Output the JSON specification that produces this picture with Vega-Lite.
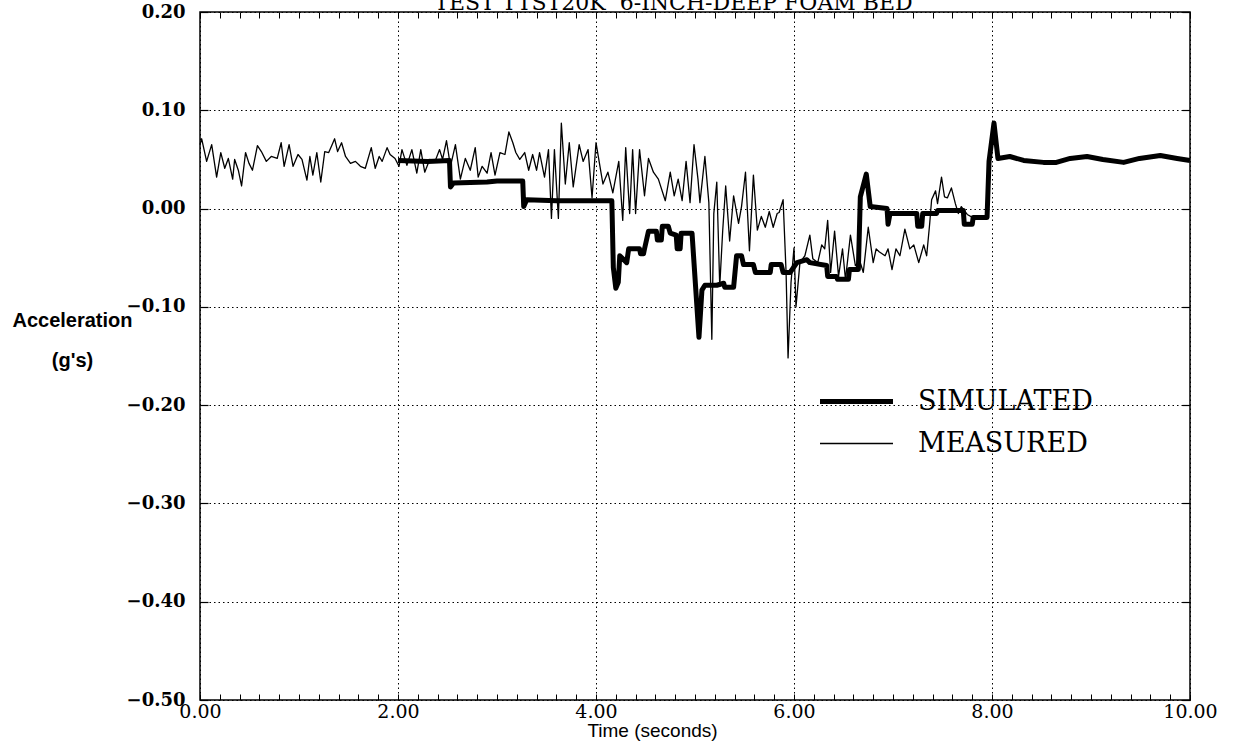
{
  "$schema": "https://vega.github.io/schema/vega-lite/v6.json",
  "width": 990,
  "height": 688,
  "autosize": {"type": "none"},
  "padding": {"left": 200, "top": 12, "right": 45, "bottom": 46},
  "background": "white",
  "config": {"view": {"stroke": "black", "strokeWidth": 1.5}},
  "datasets": {
    "d": [
      {"series": "MEASURED", "time": 0.0, "accel": 0.065},
      {"series": "MEASURED", "time": 0.017, "accel": 0.071},
      {"series": "MEASURED", "time": 0.067, "accel": 0.048},
      {"series": "MEASURED", "time": 0.118, "accel": 0.065},
      {"series": "MEASURED", "time": 0.168, "accel": 0.032},
      {"series": "MEASURED", "time": 0.21, "accel": 0.057},
      {"series": "MEASURED", "time": 0.25, "accel": 0.041},
      {"series": "MEASURED", "time": 0.286, "accel": 0.051},
      {"series": "MEASURED", "time": 0.33, "accel": 0.030},
      {"series": "MEASURED", "time": 0.35, "accel": 0.050},
      {"series": "MEASURED", "time": 0.387, "accel": 0.039},
      {"series": "MEASURED", "time": 0.42, "accel": 0.023},
      {"series": "MEASURED", "time": 0.46, "accel": 0.057},
      {"series": "MEASURED", "time": 0.495, "accel": 0.046},
      {"series": "MEASURED", "time": 0.53, "accel": 0.039},
      {"series": "MEASURED", "time": 0.58, "accel": 0.064},
      {"series": "MEASURED", "time": 0.62, "accel": 0.058},
      {"series": "MEASURED", "time": 0.67, "accel": 0.048},
      {"series": "MEASURED", "time": 0.72, "accel": 0.053},
      {"series": "MEASURED", "time": 0.78, "accel": 0.051},
      {"series": "MEASURED", "time": 0.82, "accel": 0.067},
      {"series": "MEASURED", "time": 0.85, "accel": 0.043},
      {"series": "MEASURED", "time": 0.90, "accel": 0.065},
      {"series": "MEASURED", "time": 0.94, "accel": 0.043},
      {"series": "MEASURED", "time": 0.99, "accel": 0.055},
      {"series": "MEASURED", "time": 1.03, "accel": 0.050},
      {"series": "MEASURED", "time": 1.08, "accel": 0.029},
      {"series": "MEASURED", "time": 1.11, "accel": 0.053},
      {"series": "MEASURED", "time": 1.14, "accel": 0.034},
      {"series": "MEASURED", "time": 1.18, "accel": 0.057},
      {"series": "MEASURED", "time": 1.22, "accel": 0.027},
      {"series": "MEASURED", "time": 1.26, "accel": 0.058},
      {"series": "MEASURED", "time": 1.30, "accel": 0.057},
      {"series": "MEASURED", "time": 1.33, "accel": 0.064},
      {"series": "MEASURED", "time": 1.36, "accel": 0.071},
      {"series": "MEASURED", "time": 1.39, "accel": 0.058},
      {"series": "MEASURED", "time": 1.43, "accel": 0.067},
      {"series": "MEASURED", "time": 1.47, "accel": 0.053},
      {"series": "MEASURED", "time": 1.52, "accel": 0.046},
      {"series": "MEASURED", "time": 1.57, "accel": 0.048},
      {"series": "MEASURED", "time": 1.62, "accel": 0.043},
      {"series": "MEASURED", "time": 1.67, "accel": 0.041},
      {"series": "MEASURED", "time": 1.73, "accel": 0.062},
      {"series": "MEASURED", "time": 1.77, "accel": 0.041},
      {"series": "MEASURED", "time": 1.81, "accel": 0.053},
      {"series": "MEASURED", "time": 1.84, "accel": 0.048},
      {"series": "MEASURED", "time": 1.89, "accel": 0.062},
      {"series": "MEASURED", "time": 1.92, "accel": 0.055},
      {"series": "MEASURED", "time": 1.97, "accel": 0.051},
      {"series": "MEASURED", "time": 2.01, "accel": 0.043},
      {"series": "MEASURED", "time": 2.04, "accel": 0.060},
      {"series": "MEASURED", "time": 2.09, "accel": 0.044},
      {"series": "MEASURED", "time": 2.14, "accel": 0.060},
      {"series": "MEASURED", "time": 2.19, "accel": 0.036},
      {"series": "MEASURED", "time": 2.23, "accel": 0.060},
      {"series": "MEASURED", "time": 2.27, "accel": 0.037},
      {"series": "MEASURED", "time": 2.32, "accel": 0.050},
      {"series": "MEASURED", "time": 2.37, "accel": 0.047},
      {"series": "MEASURED", "time": 2.42, "accel": 0.060},
      {"series": "MEASURED", "time": 2.45, "accel": 0.050},
      {"series": "MEASURED", "time": 2.49, "accel": 0.069},
      {"series": "MEASURED", "time": 2.53, "accel": 0.043},
      {"series": "MEASURED", "time": 2.58, "accel": 0.065},
      {"series": "MEASURED", "time": 2.63, "accel": 0.030},
      {"series": "MEASURED", "time": 2.68, "accel": 0.051},
      {"series": "MEASURED", "time": 2.73, "accel": 0.039},
      {"series": "MEASURED", "time": 2.78, "accel": 0.062},
      {"series": "MEASURED", "time": 2.81, "accel": 0.032},
      {"series": "MEASURED", "time": 2.85, "accel": 0.043},
      {"series": "MEASURED", "time": 2.90, "accel": 0.036},
      {"series": "MEASURED", "time": 2.94, "accel": 0.057},
      {"series": "MEASURED", "time": 2.98, "accel": 0.034},
      {"series": "MEASURED", "time": 3.03, "accel": 0.057},
      {"series": "MEASURED", "time": 3.08, "accel": 0.055},
      {"series": "MEASURED", "time": 3.12, "accel": 0.078},
      {"series": "MEASURED", "time": 3.16, "accel": 0.067},
      {"series": "MEASURED", "time": 3.19, "accel": 0.057},
      {"series": "MEASURED", "time": 3.23, "accel": 0.050},
      {"series": "MEASURED", "time": 3.28, "accel": 0.057},
      {"series": "MEASURED", "time": 3.32, "accel": 0.039},
      {"series": "MEASURED", "time": 3.36, "accel": 0.055},
      {"series": "MEASURED", "time": 3.40, "accel": 0.039},
      {"series": "MEASURED", "time": 3.43, "accel": 0.057},
      {"series": "MEASURED", "time": 3.48, "accel": 0.032},
      {"series": "MEASURED", "time": 3.52, "accel": 0.060},
      {"series": "MEASURED", "time": 3.55, "accel": -0.010},
      {"series": "MEASURED", "time": 3.58, "accel": 0.060},
      {"series": "MEASURED", "time": 3.62, "accel": -0.010},
      {"series": "MEASURED", "time": 3.65, "accel": 0.087},
      {"series": "MEASURED", "time": 3.69, "accel": 0.025},
      {"series": "MEASURED", "time": 3.73, "accel": 0.067},
      {"series": "MEASURED", "time": 3.77, "accel": 0.022},
      {"series": "MEASURED", "time": 3.83, "accel": 0.065},
      {"series": "MEASURED", "time": 3.87, "accel": 0.048},
      {"series": "MEASURED", "time": 3.92, "accel": 0.060},
      {"series": "MEASURED", "time": 3.96, "accel": 0.011},
      {"series": "MEASURED", "time": 4.00, "accel": 0.067},
      {"series": "MEASURED", "time": 4.04, "accel": 0.043},
      {"series": "MEASURED", "time": 4.07, "accel": 0.025},
      {"series": "MEASURED", "time": 4.12, "accel": 0.037},
      {"series": "MEASURED", "time": 4.17, "accel": 0.016},
      {"series": "MEASURED", "time": 4.23, "accel": 0.048},
      {"series": "MEASURED", "time": 4.27, "accel": -0.012},
      {"series": "MEASURED", "time": 4.30, "accel": 0.062},
      {"series": "MEASURED", "time": 4.34, "accel": -0.005},
      {"series": "MEASURED", "time": 4.37, "accel": 0.060},
      {"series": "MEASURED", "time": 4.40, "accel": -0.005},
      {"series": "MEASURED", "time": 4.44, "accel": 0.060},
      {"series": "MEASURED", "time": 4.49, "accel": 0.013},
      {"series": "MEASURED", "time": 4.53, "accel": 0.051},
      {"series": "MEASURED", "time": 4.58, "accel": 0.037},
      {"series": "MEASURED", "time": 4.63, "accel": 0.030},
      {"series": "MEASURED", "time": 4.70, "accel": 0.008},
      {"series": "MEASURED", "time": 4.75, "accel": 0.037},
      {"series": "MEASURED", "time": 4.79, "accel": 0.013},
      {"series": "MEASURED", "time": 4.83, "accel": 0.030},
      {"series": "MEASURED", "time": 4.87, "accel": 0.008},
      {"series": "MEASURED", "time": 4.91, "accel": 0.048},
      {"series": "MEASURED", "time": 4.95, "accel": 0.006},
      {"series": "MEASURED", "time": 4.99, "accel": 0.065},
      {"series": "MEASURED", "time": 5.03, "accel": 0.030},
      {"series": "MEASURED", "time": 5.05, "accel": 0.006},
      {"series": "MEASURED", "time": 5.10, "accel": 0.053},
      {"series": "MEASURED", "time": 5.14, "accel": 0.006},
      {"series": "MEASURED", "time": 5.17, "accel": -0.133},
      {"series": "MEASURED", "time": 5.19, "accel": -0.005},
      {"series": "MEASURED", "time": 5.22, "accel": 0.027},
      {"series": "MEASURED", "time": 5.25, "accel": -0.079},
      {"series": "MEASURED", "time": 5.28, "accel": -0.022},
      {"series": "MEASURED", "time": 5.31, "accel": 0.023},
      {"series": "MEASURED", "time": 5.35, "accel": -0.033},
      {"series": "MEASURED", "time": 5.39, "accel": 0.013},
      {"series": "MEASURED", "time": 5.44, "accel": -0.015},
      {"series": "MEASURED", "time": 5.47, "accel": 0.002},
      {"series": "MEASURED", "time": 5.51, "accel": 0.037},
      {"series": "MEASURED", "time": 5.55, "accel": -0.043},
      {"series": "MEASURED", "time": 5.59, "accel": 0.034},
      {"series": "MEASURED", "time": 5.63, "accel": -0.022},
      {"series": "MEASURED", "time": 5.67, "accel": -0.008},
      {"series": "MEASURED", "time": 5.71, "accel": -0.019},
      {"series": "MEASURED", "time": 5.75, "accel": -0.003},
      {"series": "MEASURED", "time": 5.79, "accel": -0.019},
      {"series": "MEASURED", "time": 5.83, "accel": -0.005},
      {"series": "MEASURED", "time": 5.85, "accel": -0.004},
      {"series": "MEASURED", "time": 5.89, "accel": 0.009},
      {"series": "MEASURED", "time": 5.92, "accel": -0.065},
      {"series": "MEASURED", "time": 5.94, "accel": -0.152},
      {"series": "MEASURED", "time": 5.97, "accel": -0.075},
      {"series": "MEASURED", "time": 6.00, "accel": -0.040},
      {"series": "MEASURED", "time": 6.02, "accel": -0.100},
      {"series": "MEASURED", "time": 6.06, "accel": -0.055},
      {"series": "MEASURED", "time": 6.11, "accel": -0.048},
      {"series": "MEASURED", "time": 6.16, "accel": -0.027},
      {"series": "MEASURED", "time": 6.19, "accel": -0.051},
      {"series": "MEASURED", "time": 6.24, "accel": -0.055},
      {"series": "MEASURED", "time": 6.28, "accel": -0.037},
      {"series": "MEASURED", "time": 6.31, "accel": -0.041},
      {"series": "MEASURED", "time": 6.34, "accel": -0.012},
      {"series": "MEASURED", "time": 6.37, "accel": -0.065},
      {"series": "MEASURED", "time": 6.41, "accel": -0.023},
      {"series": "MEASURED", "time": 6.45, "accel": -0.069},
      {"series": "MEASURED", "time": 6.49, "accel": -0.041},
      {"series": "MEASURED", "time": 6.52, "accel": -0.072},
      {"series": "MEASURED", "time": 6.57, "accel": -0.027},
      {"series": "MEASURED", "time": 6.62, "accel": -0.058},
      {"series": "MEASURED", "time": 6.67, "accel": -0.055},
      {"series": "MEASURED", "time": 6.70, "accel": -0.065},
      {"series": "MEASURED", "time": 6.75, "accel": -0.019},
      {"series": "MEASURED", "time": 6.80, "accel": -0.055},
      {"series": "MEASURED", "time": 6.83, "accel": -0.041},
      {"series": "MEASURED", "time": 6.86, "accel": -0.044},
      {"series": "MEASURED", "time": 6.92, "accel": -0.048},
      {"series": "MEASURED", "time": 6.95, "accel": -0.041},
      {"series": "MEASURED", "time": 6.99, "accel": -0.062},
      {"series": "MEASURED", "time": 7.03, "accel": -0.041},
      {"series": "MEASURED", "time": 7.07, "accel": -0.048},
      {"series": "MEASURED", "time": 7.12, "accel": -0.021},
      {"series": "MEASURED", "time": 7.17, "accel": -0.041},
      {"series": "MEASURED", "time": 7.21, "accel": -0.037},
      {"series": "MEASURED", "time": 7.26, "accel": -0.055},
      {"series": "MEASURED", "time": 7.31, "accel": -0.037},
      {"series": "MEASURED", "time": 7.34, "accel": -0.048},
      {"series": "MEASURED", "time": 7.37, "accel": -0.016},
      {"series": "MEASURED", "time": 7.39, "accel": 0.009},
      {"series": "MEASURED", "time": 7.43, "accel": 0.018},
      {"series": "MEASURED", "time": 7.45, "accel": 0.005},
      {"series": "MEASURED", "time": 7.49, "accel": 0.032},
      {"series": "MEASURED", "time": 7.52, "accel": 0.012},
      {"series": "MEASURED", "time": 7.55, "accel": 0.011},
      {"series": "MEASURED", "time": 7.59, "accel": 0.021},
      {"series": "MEASURED", "time": 7.63, "accel": 0.005},
      {"series": "MEASURED", "time": 7.66, "accel": -0.005},
      {"series": "MEASURED", "time": 7.69, "accel": 0.002},
      {"series": "MEASURED", "time": 7.75, "accel": -0.006},
      {"series": "MEASURED", "time": 7.82, "accel": -0.010},
      {"series": "MEASURED", "time": 7.90, "accel": -0.008},
      {"series": "MEASURED", "time": 7.96, "accel": -0.010},
      {"series": "SIMULATED", "time": 2.00, "accel": 0.049},
      {"series": "SIMULATED", "time": 2.30, "accel": 0.048},
      {"series": "SIMULATED", "time": 2.52, "accel": 0.049},
      {"series": "SIMULATED", "time": 2.53, "accel": 0.022},
      {"series": "SIMULATED", "time": 2.56, "accel": 0.026},
      {"series": "SIMULATED", "time": 2.90, "accel": 0.027},
      {"series": "SIMULATED", "time": 3.00, "accel": 0.028},
      {"series": "SIMULATED", "time": 3.26, "accel": 0.028},
      {"series": "SIMULATED", "time": 3.27, "accel": 0.002},
      {"series": "SIMULATED", "time": 3.30, "accel": 0.009},
      {"series": "SIMULATED", "time": 3.60, "accel": 0.008},
      {"series": "SIMULATED", "time": 4.00, "accel": 0.008},
      {"series": "SIMULATED", "time": 4.16, "accel": 0.008},
      {"series": "SIMULATED", "time": 4.175, "accel": -0.060},
      {"series": "SIMULATED", "time": 4.20, "accel": -0.081},
      {"series": "SIMULATED", "time": 4.225, "accel": -0.075},
      {"series": "SIMULATED", "time": 4.24, "accel": -0.048},
      {"series": "SIMULATED", "time": 4.31, "accel": -0.055},
      {"series": "SIMULATED", "time": 4.33, "accel": -0.041},
      {"series": "SIMULATED", "time": 4.44, "accel": -0.041},
      {"series": "SIMULATED", "time": 4.45, "accel": -0.046},
      {"series": "SIMULATED", "time": 4.48, "accel": -0.046},
      {"series": "SIMULATED", "time": 4.49, "accel": -0.041},
      {"series": "SIMULATED", "time": 4.53, "accel": -0.023},
      {"series": "SIMULATED", "time": 4.61, "accel": -0.023},
      {"series": "SIMULATED", "time": 4.62, "accel": -0.032},
      {"series": "SIMULATED", "time": 4.66, "accel": -0.032},
      {"series": "SIMULATED", "time": 4.67, "accel": -0.018},
      {"series": "SIMULATED", "time": 4.73, "accel": -0.018},
      {"series": "SIMULATED", "time": 4.75, "accel": -0.025},
      {"series": "SIMULATED", "time": 4.81, "accel": -0.027},
      {"series": "SIMULATED", "time": 4.82, "accel": -0.041},
      {"series": "SIMULATED", "time": 4.85, "accel": -0.041},
      {"series": "SIMULATED", "time": 4.86, "accel": -0.025},
      {"series": "SIMULATED", "time": 4.97, "accel": -0.025},
      {"series": "SIMULATED", "time": 5.04, "accel": -0.131},
      {"series": "SIMULATED", "time": 5.07, "accel": -0.083},
      {"series": "SIMULATED", "time": 5.10, "accel": -0.078},
      {"series": "SIMULATED", "time": 5.22, "accel": -0.078},
      {"series": "SIMULATED", "time": 5.29, "accel": -0.076},
      {"series": "SIMULATED", "time": 5.30, "accel": -0.080},
      {"series": "SIMULATED", "time": 5.39, "accel": -0.080},
      {"series": "SIMULATED", "time": 5.42, "accel": -0.048},
      {"series": "SIMULATED", "time": 5.47, "accel": -0.048},
      {"series": "SIMULATED", "time": 5.49, "accel": -0.057},
      {"series": "SIMULATED", "time": 5.59, "accel": -0.057},
      {"series": "SIMULATED", "time": 5.61, "accel": -0.065},
      {"series": "SIMULATED", "time": 5.76, "accel": -0.065},
      {"series": "SIMULATED", "time": 5.77, "accel": -0.057},
      {"series": "SIMULATED", "time": 5.87, "accel": -0.057},
      {"series": "SIMULATED", "time": 5.89, "accel": -0.065},
      {"series": "SIMULATED", "time": 5.96, "accel": -0.065},
      {"series": "SIMULATED", "time": 6.03, "accel": -0.055},
      {"series": "SIMULATED", "time": 6.13, "accel": -0.052},
      {"series": "SIMULATED", "time": 6.16, "accel": -0.055},
      {"series": "SIMULATED", "time": 6.33, "accel": -0.058},
      {"series": "SIMULATED", "time": 6.34, "accel": -0.069},
      {"series": "SIMULATED", "time": 6.43, "accel": -0.069},
      {"series": "SIMULATED", "time": 6.44, "accel": -0.072},
      {"series": "SIMULATED", "time": 6.55, "accel": -0.072},
      {"series": "SIMULATED", "time": 6.56, "accel": -0.062},
      {"series": "SIMULATED", "time": 6.65, "accel": -0.062},
      {"series": "SIMULATED", "time": 6.67, "accel": 0.012},
      {"series": "SIMULATED", "time": 6.73, "accel": 0.035},
      {"series": "SIMULATED", "time": 6.77, "accel": 0.002},
      {"series": "SIMULATED", "time": 6.94, "accel": 0.000},
      {"series": "SIMULATED", "time": 6.95, "accel": -0.016},
      {"series": "SIMULATED", "time": 6.97, "accel": -0.005},
      {"series": "SIMULATED", "time": 7.24, "accel": -0.005},
      {"series": "SIMULATED", "time": 7.25, "accel": -0.018},
      {"series": "SIMULATED", "time": 7.29, "accel": -0.018},
      {"series": "SIMULATED", "time": 7.30, "accel": -0.005},
      {"series": "SIMULATED", "time": 7.44, "accel": -0.005},
      {"series": "SIMULATED", "time": 7.45, "accel": -0.002},
      {"series": "SIMULATED", "time": 7.71, "accel": -0.002},
      {"series": "SIMULATED", "time": 7.72, "accel": -0.016},
      {"series": "SIMULATED", "time": 7.80, "accel": -0.016},
      {"series": "SIMULATED", "time": 7.81, "accel": -0.009},
      {"series": "SIMULATED", "time": 7.95, "accel": -0.009},
      {"series": "SIMULATED", "time": 7.97, "accel": 0.048},
      {"series": "SIMULATED", "time": 8.02, "accel": 0.087},
      {"series": "SIMULATED", "time": 8.06, "accel": 0.051},
      {"series": "SIMULATED", "time": 8.18, "accel": 0.053},
      {"series": "SIMULATED", "time": 8.32, "accel": 0.049},
      {"series": "SIMULATED", "time": 8.52, "accel": 0.047},
      {"series": "SIMULATED", "time": 8.65, "accel": 0.047},
      {"series": "SIMULATED", "time": 8.79, "accel": 0.051},
      {"series": "SIMULATED", "time": 8.96, "accel": 0.053},
      {"series": "SIMULATED", "time": 9.12, "accel": 0.050},
      {"series": "SIMULATED", "time": 9.33, "accel": 0.047},
      {"series": "SIMULATED", "time": 9.49, "accel": 0.051},
      {"series": "SIMULATED", "time": 9.70, "accel": 0.054},
      {"series": "SIMULATED", "time": 9.87, "accel": 0.051},
      {"series": "SIMULATED", "time": 10.00, "accel": 0.049}
    ]
  },
  "data": {"name": "d"},
  "resolve": {"axis": {"x": "independent", "y": "independent"}},
  "layer": [
    {
      "transform": [{"filter": "datum.series === 'SIMULATED'"}],
      "mark": {"type": "line", "color": "black", "strokeJoin": "round"},
      "encoding": {
        "x": {"field": "time", "type": "quantitative", "scale": {"domain": [0, 10], "nice": false, "zero": false},
          "axis": {"orient": "top", "values": [0,0.2,0.4,0.6,0.8,1,1.2,1.4,1.6,1.8,2,2.2,2.4,2.6,2.8,3,3.2,3.4,3.6,3.8,4,4.2,4.4,4.6,4.8,5,5.2,5.4,5.6,5.8,6,6.2,6.4,6.6,6.8,7,7.2,7.4,7.6,7.8,8,8.2,8.4,8.6,8.8,9,9.2,9.4,9.6,9.8,10],
            "labels": false, "grid": false, "domain": false, "tickSize": -6, "tickColor": "black", "tickWidth": 1,
            "title": "TEST TTST20K\u00a0 6-INCH-DEEP FOAM BED", "titleFont": "DejaVu Serif", "titleFontSize": 22, "titleFontWeight": "normal", "titleColor": "black",
            "titleX": 473, "titleY": -3, "titleAlign": "center", "titleBaseline": "alphabetic", "titleAngle": 0, "titleLimit": 0}},
        "y": {"field": "accel", "type": "quantitative", "scale": {"domain": [-0.5, 0.2], "nice": false, "zero": false},
          "axis": {"orient": "right", "values": [-0.5,-0.4,-0.3,-0.2,-0.1,0,0.1,0.2], "labels": false, "grid": false, "domain": false, "title": null, "tickSize": -8, "tickColor": "black", "tickWidth": 1.2}},
        "order": {"field": "time", "type": "quantitative"},
        "strokeWidth": {"field": "series", "type": "nominal",
          "scale": {"type": "point", "domain": ["SIMULATED", "MEASURED"], "range": [5, 1.3], "padding": 0},
          "legend": {"orient": "none", "legendX": 643, "legendY": 376, "title": null, "padding": 0,
            "symbolType": "M-4,0H4", "symbolSize": 333, "symbolStrokeColor": "black", "symbolFillColor": "black",
            "labelFont": "DejaVu Serif", "labelFontSize": 27, "labelColor": "black", "labelOffset": 48, "labelLimit": 400, "rowPadding": 14, "labelBaseline": "middle"}}
      }
    },
    {
      "transform": [{"filter": "datum.series === 'MEASURED'"}],
      "mark": {"type": "line", "color": "black", "strokeJoin": "round"},
      "encoding": {
        "x": {"field": "time", "type": "quantitative", "scale": {"domain": [0, 10], "nice": false, "zero": false},
          "axis": {"orient": "bottom", "values": [0,0.2,0.4,0.6,0.8,1,1.2,1.4,1.6,1.8,2,2.2,2.4,2.6,2.8,3,3.2,3.4,3.6,3.8,4,4.2,4.4,4.6,4.8,5,5.2,5.4,5.6,5.8,6,6.2,6.4,6.6,6.8,7,7.2,7.4,7.6,7.8,8,8.2,8.4,8.6,8.8,9,9.2,9.4,9.6,9.8,10],
            "labelExpr": "abs(datum.value/2 - round(datum.value/2)) < 0.001 ? format(datum.value, '.2f') : ''",
            "labelOverlap": false, "labelFlush": false, "labelFont": "DejaVu Serif", "labelFontSize": 19, "labelColor": "black", "labelPadding": 8,
            "grid": true, "gridColor": "black", "gridDash": [1.5, 3], "gridWidth": 1,
            "gridOpacity": {"condition": {"test": "abs(datum.value/2 - round(datum.value/2)) < 0.001", "value": 1}, "value": 0},
            "domain": false, "tickSize": -6, "tickColor": "black", "tickWidth": 1,
            "title": "Time (seconds)", "titleFont": "Liberation Sans", "titleFontSize": 19, "titleFontWeight": "normal", "titleColor": "black", "titleX": 452, "titleY": 30, "titleAlign": "center", "titleBaseline": "middle"}},
        "y": {"field": "accel", "type": "quantitative", "scale": {"domain": [-0.5, 0.2], "nice": false, "zero": false},
          "axis": {"orient": "left", "values": [-0.5,-0.4,-0.3,-0.2,-0.1,0,0.1,0.2], "format": ".2f",
            "labelFont": "DejaVu Serif", "labelFontSize": 18, "labelFontWeight": "bold", "labelColor": "black", "labelPadding": 23,
            "grid": true, "gridColor": "black", "gridDash": [1.5, 3], "gridWidth": 1,
            "domain": false, "tickSize": -8, "tickColor": "black", "tickWidth": 1.2,
            "title": ["Acceleration", "(g's)"], "titleFont": "Liberation Sans", "titleFontSize": 20, "titleFontWeight": "bold", "titleColor": "black",
            "titleAngle": 0, "titleX": -128, "titleY": 308, "titleAlign": "center", "titleBaseline": "middle", "titleLineHeight": 40}},
        "order": {"field": "time", "type": "quantitative"},
        "strokeWidth": {"field": "series", "type": "nominal",
          "scale": {"type": "point", "domain": ["SIMULATED", "MEASURED"], "range": [5, 1.3], "padding": 0}}
      }
    }
  ]
}
